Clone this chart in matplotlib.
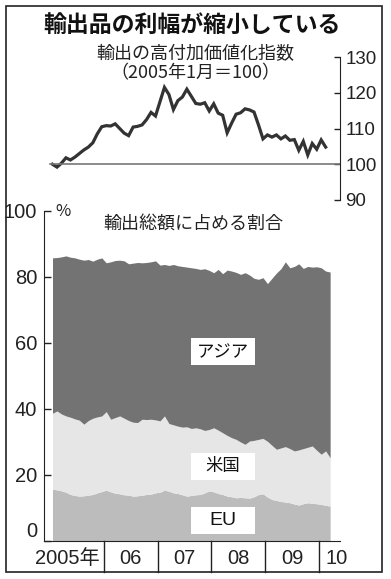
import numpy as np
import matplotlib
matplotlib.use("Agg")
import matplotlib.pyplot as plt
from matplotlib.patches import Rectangle

# fonts: Japanese text and narrow digits
jp = ['Noto Sans CJK JP', 'DejaVu Sans']
num = ['Liberation Sans Narrow', 'Liberation Sans', 'DejaVu Sans']

# export high value-added index (Jan 2005 = 100), monthly from Jan 2005
index_vals = [100.0, 99.2, 100.3, 101.8, 101.2, 102.0, 103.0, 104.0, 104.8, 106.0,
              108.5, 110.5, 110.8, 110.7, 111.3, 110.0, 108.7, 108.0, 110.4, 110.6,
              111.0, 112.5, 114.5, 113.5, 117.5, 121.5, 119.5, 115.3, 117.8, 118.8,
              121.0, 119.0, 117.0, 116.8, 117.2, 114.9, 116.9, 114.3, 113.7, 108.8,
              111.5, 114.0, 114.4, 115.5, 115.2, 114.6, 111.0, 107.1, 108.2, 107.6,
              108.2, 107.1, 107.9, 106.7, 106.9, 103.9, 106.4, 102.6, 105.8, 104.2,
              106.8, 104.8]

# share of total exports (%), cumulative tops: EU, EU+US, EU+US+Asia
eu_top = [15.7, 15.5, 15.2, 14.8, 14.1, 13.8, 13.6, 13.7, 13.9, 14.1, 14.6, 15.0,
          15.4, 14.9, 14.5, 14.3, 14.0, 13.9, 13.6, 13.7, 13.9, 14.1, 14.2, 14.6,
          14.8, 15.4, 15.1, 14.6, 14.4, 14.0, 13.6, 13.8, 14.0, 14.1, 14.6, 15.2,
          14.9, 14.4, 14.1, 13.6, 13.4, 13.1, 13.2, 13.1, 13.0, 13.4, 14.1, 14.3,
          13.3, 12.6, 12.3, 12.0, 11.8, 11.6, 11.2, 10.9, 11.3, 11.6, 11.4, 11.3,
          11.1, 10.8, 10.6]
us_top = [38.7, 39.4, 38.5, 37.9, 37.5, 37.0, 36.6, 35.4, 36.5, 37.2, 37.6, 37.9,
          39.2, 36.9, 37.4, 37.9, 37.2, 36.5, 36.0, 35.9, 36.9, 36.8, 36.9, 36.7,
          36.4, 37.9, 35.6, 35.2, 34.8, 34.5, 34.6, 34.1, 34.3, 34.0, 33.5, 33.8,
          34.3, 33.6, 32.8, 32.0, 31.3, 30.8, 30.0, 29.3, 30.3, 30.5, 30.8, 31.1,
          30.2, 29.0, 27.8, 28.2, 28.6, 28.0, 27.3, 27.6, 28.0, 28.4, 28.8, 27.5,
          26.3, 27.3, 25.2]
asia_top = [85.8, 85.9, 86.1, 86.4, 86.0, 85.8, 85.4, 85.1, 85.3, 84.8, 85.4, 85.8,
            84.3, 84.6, 85.0, 85.1, 84.9, 84.0, 84.2, 84.4, 84.3, 84.4, 84.6, 84.9,
            83.6, 83.8, 83.5, 83.8, 83.4, 83.2, 83.0, 82.8, 82.6, 82.3, 82.5, 82.0,
            81.3, 82.3, 81.0, 82.1, 81.8, 81.4, 80.8, 81.3, 80.6, 79.6, 79.3, 79.8,
            78.0, 79.6, 81.2, 82.5, 84.6, 82.8, 83.2, 84.0, 82.6, 83.2, 83.0, 83.1,
            82.8, 81.8, 81.5]

regions = ['アジア', '米国', 'EU']
years = ['2005年', '06', '07', '08', '09', '10']

W, H = 391, 579


def rect(l, t, r, b):
    # pixel box -> figure fraction
    return [l / W, 1 - b / H, (r - l) / W, (b - t) / H]


fig = plt.figure(figsize=(W / 100, H / 100), dpi=100)
fig.patch.set_facecolor('white')

# outer frame
fig.patches.append(Rectangle((6 / W, 1 - 572 / H), 376 / W, 566 / H,
                             transform=fig.transFigure, fill=False,
                             edgecolor='#222222', linewidth=1.2))

fig.text(192 / W, 1 - 25 / H, '輸出品の利幅が縮小している', family=jp,
         fontsize=16.5, fontweight='bold', ha='center', va='center', color='#111111')

xmin, xmax = -1.9, 64.2

# ---- upper chart: index line ----
ax1 = fig.add_axes(rect(44, 57, 340, 200))
m1 = np.arange(len(index_vals))
ax1.plot(m1, index_vals, color='#333333', linewidth=2.3, solid_joinstyle='miter')
ax1.axhline(100, xmin=6 / 296, xmax=1, color='#777777', linewidth=1.2)
ax1.set_xlim(xmin, xmax)
ax1.set_ylim(90, 130)
ax1.set_yticks([90, 100, 110, 120, 130])
ax1.yaxis.tick_right()
ax1.tick_params(axis='y', direction='in', length=4, width=1, pad=4, colors='#222222')
for lbl in ax1.get_yticklabels():
    lbl.set_family(num)
    lbl.set_fontsize(13.5)
ax1.set_xticks([])
for s in ['left', 'top', 'bottom']:
    ax1.spines[s].set_visible(False)
ax1.spines['right'].set_color('#222222')
ax1.patch.set_alpha(0)
ax1.text(0.51, 1 - (54 - 57) / 143, '輸出の高付加価値化指数', transform=ax1.transAxes,
         family=jp, fontsize=13, ha='center', va='center', color='#222222')
ax1.text(0.51, 1 - (73 - 57) / 143, '（2005年1月＝100）', transform=ax1.transAxes,
         family=jp, fontsize=13, ha='center', va='center', color='#222222')

# ---- lower chart: stacked shares ----
ax2 = fig.add_axes(rect(44, 211, 340, 541))
m2 = np.arange(len(asia_top))
ax2.fill_between(m2, 0, eu_top, color='#bcbcbc', linewidth=0)
ax2.fill_between(m2, eu_top, us_top, color='#e6e6e6', linewidth=0)
ax2.fill_between(m2, us_top, asia_top, color='#737373', linewidth=0)
ax2.set_xlim(xmin, xmax)
ax2.set_ylim(0, 100)
ax2.set_yticks([0, 20, 40, 60, 80, 100])
ax2.tick_params(axis='y', direction='in', length=5, width=1, pad=5, colors='#222222')
for lbl in ax2.get_yticklabels():
    lbl.set_family(num)
    lbl.set_fontsize(14.5)
ax2.get_yticklabels()[0].set_verticalalignment('bottom')
ax2.set_xticks([])
for s in ['top', 'right']:
    ax2.spines[s].set_visible(False)
ax2.spines['left'].set_color('#222222')
ax2.spines['bottom'].set_color('#222222')
ax2.patch.set_alpha(0)

ax2.text((63 - 44) / 296, 1.0, '%', transform=ax2.transAxes, family=jp,
         fontsize=12, ha='center', va='center', color='#222222')
ax2.text((193 - 44) / 296, 1 - (224 - 211) / 330, '輸出総額に占める割合',
         transform=ax2.transAxes, family=jp, fontsize=13, ha='center',
         va='center', color='#222222')

# region labels on white boxes
lab_x = 38
lab_y = [57.3, 22.7, 6.1]
box_w, box_h = 14.3, 8.2
for name, ly in zip(regions, lab_y):
    ax2.add_patch(Rectangle((lab_x - box_w / 2, ly - box_h / 2), box_w, box_h,
                            facecolor='white', edgecolor='none', zorder=3))
    fam = num if name == 'EU' else jp
    ax2.text(lab_x, ly, name, family=fam, fontsize=14 if name == 'EU' else 12.5,
             ha='center', va='center', color='#111111', zorder=4)

# year row under the axis
xt = ax2.get_xaxis_transform()
row = -31 / 330
for k in range(1, len(years)):
    ax2.axvline(12 * k - 0.5, ymin=row, ymax=0, color='#222222',
                linewidth=1, clip_on=False)
lab_pos = [3.3] + [12 * k + 5.5 for k in range(1, 5)] + [63.5]
for yl, xp in zip(years, lab_pos):
    ax2.text(xp, -17 / 330, yl, transform=xt, family=num + ['Noto Sans CJK JP'],
             fontsize=14.5, ha='center', va='center', color='#222222', clip_on=False)

fig.savefig('out.png', dpi=100)
